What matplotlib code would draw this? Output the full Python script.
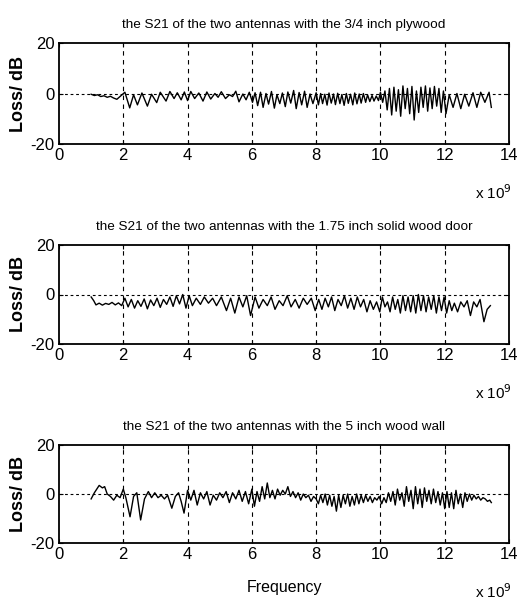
import matplotlib
matplotlib.use("Agg")
import matplotlib.pyplot as plt

plt.rcParams['font.family'] = ['Liberation Sans Narrow', 'Liberation Sans', 'DejaVu Sans']

titles = ["the S21 of the two antennas with the 3/4 inch plywood",
          "the S21 of the two antennas with the 1.75 inch solid wood door",
          "the S21 of the two antennas with the 5 inch wood wall"]
xticks = [0, 2, 4, 6, 8, 10, 12, 14]
yticks = [-20, 0, 20]
ylabel = "Loss/ dB"
xlabel = "Frequency"

# ---- plywood (frequency in GHz, loss in dB) ----
f_ply = [1.00, 1.10, 1.20, 1.30, 1.40, 1.50, 1.60, 1.70, 1.80, 1.90,
         2.05, 2.20, 2.32, 2.44, 2.58, 2.75, 2.88, 3.04, 3.15, 3.33, 3.45, 3.58, 3.68, 3.80, 3.90, 4.00,
         4.10, 4.22, 4.35, 4.48, 4.60, 4.72, 4.85, 4.95, 5.05, 5.18, 5.30, 5.40, 5.50, 5.60, 5.72, 5.82, 5.92,
         6.02, 6.10, 6.18, 6.27, 6.35, 6.44, 6.52, 6.61, 6.70, 6.78, 6.87, 6.95, 7.04, 7.12, 7.21, 7.30,
         7.38, 7.47, 7.55, 7.64, 7.72, 7.81, 7.90,
         8.00, 8.07, 8.14, 8.20, 8.27, 8.34, 8.40, 8.47, 8.54, 8.60, 8.67, 8.74, 8.80, 8.87, 8.94, 9.00,
         9.07, 9.14, 9.20, 9.27, 9.34, 9.40, 9.47, 9.54, 9.60, 9.67, 9.74, 9.80, 9.87, 9.94,
         10.00, 10.07, 10.14, 10.21, 10.28, 10.35, 10.42, 10.49, 10.56, 10.63, 10.70, 10.77, 10.84, 10.91,
         10.98, 11.05, 11.12, 11.19, 11.26, 11.33, 11.40, 11.47, 11.54, 11.61, 11.68, 11.75, 11.82, 11.89, 11.96,
         12.04, 12.14, 12.26, 12.38, 12.50, 12.62, 12.75, 12.88, 13.00, 13.12, 13.25, 13.38, 13.45]
s_ply = [-0.3, -0.8, -0.5, -1.2, -0.9, -1.5, -1.1, -1.8, -2.3, -1.2,
         0.5, -5.7, -0.5, -4.5, 0.2, -5.0, -0.3, -3.6, 0.5, -3.0, 0.8, -2.0, 0.3, -2.5, 0.6, -2.8,
         0.8, -2.0, 0.2, -3.0, 0.6, -2.2, 0.0, -1.5, 0.7, -2.0, -0.5, -1.2, 0.9, -3.3, -0.2, -2.5, 0.5,
         -3.5, 0.3, -4.8, 0.5, -5.5, 0.0, -4.2, 0.8, -5.8, -0.5, -4.0, 0.2, -5.2, 0.6, -3.8, 1.2,
         -6.0, 0.4, -4.5, 0.9, -5.5, -0.2, -4.0,
         0.3, -4.5, 0.0, -4.0, -0.3, -4.6, 0.2, -3.8, -0.2, -4.4, 0.1, -4.0, -0.4, -4.7, 0.0, -3.9,
         -0.3, -4.5, 0.2, -4.1, -0.2, -3.8, 0.0, -3.5, -0.5, -3.2, -0.8, -3.0, -1.0, -2.8,
         0.5, -3.5, 1.0, -6.5, 2.0, -8.5, 2.5, -7.0, 1.5, -9.0, 3.0, -6.0, 2.0, -8.0,
         2.8, -10.5, 1.0, -7.5, 2.5, -5.5, 3.0, -7.0, 2.2, -6.0, 2.8, -5.0, 2.0, -7.5, 1.0,
         -8.0, -0.5, -5.5, 0.0, -6.0, -0.3, -5.0, 0.3, -5.5, 0.5, -3.5, 0.5, -5.5]

# ---- solid wood door ----
f_door = [1.00, 1.08, 1.15, 1.25, 1.35, 1.45, 1.55, 1.65, 1.75, 1.85, 1.95,
          2.05, 2.15, 2.25, 2.35, 2.45, 2.55, 2.65, 2.75, 2.85, 2.95, 3.05, 3.15, 3.25, 3.35, 3.45,
          3.55, 3.65, 3.75, 3.85, 3.95,
          4.05, 4.15, 4.27, 4.40, 4.52, 4.65, 4.78, 4.90, 5.05, 5.21, 5.34, 5.47, 5.60, 5.72, 5.84, 5.96,
          6.10, 6.22, 6.35, 6.48, 6.60, 6.72, 6.85, 6.97, 7.10, 7.22, 7.35, 7.47, 7.60, 7.72, 7.85, 7.97,
          8.08, 8.18, 8.28, 8.38, 8.48, 8.58, 8.68, 8.78, 8.88, 8.98, 9.08, 9.18, 9.28, 9.38, 9.48,
          9.58, 9.68, 9.78, 9.88, 9.98,
          10.06, 10.14, 10.22, 10.30, 10.38, 10.46, 10.54, 10.62, 10.70, 10.78, 10.86, 10.94, 11.02,
          11.10, 11.18, 11.26, 11.34, 11.42, 11.50, 11.58, 11.66, 11.74, 11.82, 11.90, 11.98,
          12.06, 12.14, 12.22, 12.30, 12.40, 12.50, 12.60, 12.70, 12.80, 12.90, 13.00, 13.10, 13.22,
          13.32, 13.42]
s_door = [-1.0, -2.5, -4.2, -3.5, -4.3, -3.6, -4.0, -3.2, -4.2, -3.4, -4.5,
          -1.5, -5.0, -2.0, -5.5, -2.5, -4.8, -1.8, -5.8, -2.2, -4.5, -1.5, -5.2, -2.0, -4.0, -1.0,
          -4.8, -0.5, -3.8, 0.0, -5.5,
          -0.5, -4.5, -1.5, -4.0, -1.0, -3.5, -1.5, -4.5, -1.0, -6.5, -1.5, -7.5, -1.0, -5.0, -0.5, -8.5,
          -1.0, -5.5, -2.0, -4.5, -1.0, -6.0, -2.5, -4.5, -0.5, -5.0, -2.0, -5.5, -1.5, -4.0, -1.5, -6.5,
          -2.0, -6.0, -1.5, -5.0, -1.0, -6.5, -2.0, -4.5, -0.5, -5.5, -1.5, -6.0, -1.0, -5.0, -2.0,
          -7.0, -2.5, -6.0, -3.0, -7.0,
          -1.0, -5.0, -3.0, -7.0, -1.0, -6.0, -2.0, -7.5, -0.5, -6.5, -1.0, -7.0, -0.5,
          -7.5, 0.0, -6.5, -0.5, -7.0, -1.0, -6.0, -0.5, -7.5, -1.0, -6.5, -1.0,
          -7.5, -2.5, -6.5, -3.5, -7.0, -3.0, -5.0, -2.5, -8.5, -3.0, -5.0, -2.0, -11.0,
          -6.0, -4.5]

# ---- 5 inch wood wall ----
f_wall = [1.00, 1.10, 1.25, 1.35, 1.42, 1.50, 1.60, 1.70, 1.80, 1.90, 2.00, 2.08, 2.21, 2.32, 2.42,
          2.54, 2.66, 2.78, 2.88, 2.98, 3.08, 3.18, 3.28, 3.38, 3.51, 3.62, 3.72, 3.80, 3.89, 4.00,
          4.10, 4.20, 4.30, 4.40, 4.50, 4.60, 4.70, 4.80, 4.90, 5.00, 5.10, 5.20, 5.30, 5.40, 5.50,
          5.60, 5.70, 5.80, 5.90, 6.00,
          6.08, 6.16, 6.24, 6.32, 6.40, 6.48, 6.56, 6.64, 6.72, 6.80, 6.88, 6.96, 7.04, 7.12, 7.20,
          7.28, 7.36, 7.44, 7.52, 7.60, 7.68, 7.76, 7.84, 7.92, 8.00,
          8.07, 8.14, 8.21, 8.28, 8.35, 8.42, 8.49, 8.56, 8.63, 8.70, 8.77, 8.84, 8.91, 8.98, 9.05,
          9.12, 9.19, 9.26, 9.33, 9.40, 9.47, 9.54, 9.61, 9.68, 9.75, 9.82, 9.89, 9.96,
          10.04, 10.11, 10.18, 10.25, 10.32, 10.39, 10.46, 10.53, 10.60, 10.67, 10.74, 10.81, 10.88,
          10.95, 11.02, 11.09, 11.16, 11.23, 11.30, 11.37, 11.44, 11.51, 11.58, 11.65, 11.72, 11.79,
          11.86, 11.93, 12.00,
          12.07, 12.14, 12.21, 12.28, 12.35, 12.42, 12.49, 12.56, 12.63, 12.70, 12.77, 12.84, 12.91,
          12.98, 13.05, 13.12, 13.19, 13.26, 13.33, 13.40, 13.45]
s_wall = [-2.0, 0.5, 3.5, 2.5, 3.0, 0.0, -1.0, -2.5, -0.5, -1.5, 2.0, -1.5, -9.3, -1.0, 0.5,
          -10.6, -2.0, 1.0, -1.5, 0.5, -1.5, -0.5, -2.0, -0.5, -5.8, -1.0, 0.5, -3.0, -7.8, 1.5,
          -2.5, 1.5, -4.5, 0.5, -2.0, 1.0, -4.5, -0.5, -2.5, 0.5, -1.5, 1.0, -3.5, 0.5, -2.0,
          1.5, -3.0, 1.0, -4.0, 2.0,
          -5.0, 1.0, -3.0, 3.0, -2.0, 4.5, -1.5, 1.5, -2.0, 2.0, -0.5, 1.5, 0.0, 3.0, -1.0,
          1.0, -1.5, 0.5, -2.5, 0.0, -1.5, -0.5, -3.0, -1.0, -2.0,
          -4.0, -0.5, -3.5, 0.0, -4.5, -0.5, -5.0, -1.0, -7.0, -0.5, -5.5, -0.5, -4.0, 0.0, -5.0,
          -1.0, -4.5, 0.0, -4.0, -0.5, -3.5, -0.5, -3.0, -1.0, -3.5, -1.5, -2.5, -1.0,
          -4.0, -1.5, -3.5, 0.5, -3.0, 1.0, -4.5, 2.0, -2.5, 0.5, -5.0, 3.0, -3.0,
          1.5, -6.0, 3.0, -4.0, 2.0, -5.5, 2.5, -3.0, 1.5, -4.0, 2.0, -3.5, 1.0,
          -4.5, 0.5, -6.0,
          1.0, -5.5, 0.5, -6.0, 1.5, -4.0, 0.0, -5.5, 0.5, -3.0, 0.0, -2.5, -0.5,
          -2.0, -1.0, -2.5, -1.5, -2.0, -3.0, -2.5, -3.5]

freqs = [f_ply, f_door, f_wall]
series = [s_ply, s_door, s_wall]

W, H = 517, 603
fig = plt.figure(figsize=(W / 100, H / 100), dpi=100)

# axes boxes in pixels: (left, top, right, bottom)
boxes = [(59, 43, 509, 144), (59, 245, 509, 344), (59, 445, 509, 543)]

for i, (l, t, r, b) in enumerate(boxes):
    ax = fig.add_axes([l / W, 1 - b / H, (r - l) / W, (b - t) / H])
    ax.plot(freqs[i], series[i], color='black', lw=1.0)
    ax.set_xlim(0, 14)
    ax.set_ylim(-20, 20)
    ax.set_xticks(xticks)
    ax.set_yticks(yticks)
    ax.set_xticklabels([str(v) for v in xticks], fontsize=12)
    ax.set_yticklabels([str(v) for v in yticks], fontsize=12)
    ax.tick_params(direction='in', length=3, width=0.8, pad=3, top=True, right=True)
    for x in xticks[1:-1]:
        ax.axvline(x, color='black', lw=0.8, ls=(0, (4, 4)))
    ax.axhline(0, color='black', lw=0.8, ls=(0, (2.5, 2.5)))
    for sp in ax.spines.values():
        sp.set_linewidth(1.3)
    ax.set_title(titles[i], fontsize=9.7, pad=10.5)
    ax.set_ylabel(ylabel, fontsize=13, fontweight='bold', family=['Liberation Sans', 'DejaVu Sans'],
                  labelpad=3)
    if i == 2:
        ax.set_xlabel(xlabel, fontsize=11.5, labelpad=13)
    fig.text(512 / W, 1 - (b + 55) / H, r"x 10$^{9}$", ha='right', va='baseline', fontsize=11)

fig.savefig("out.png", dpi=100)
